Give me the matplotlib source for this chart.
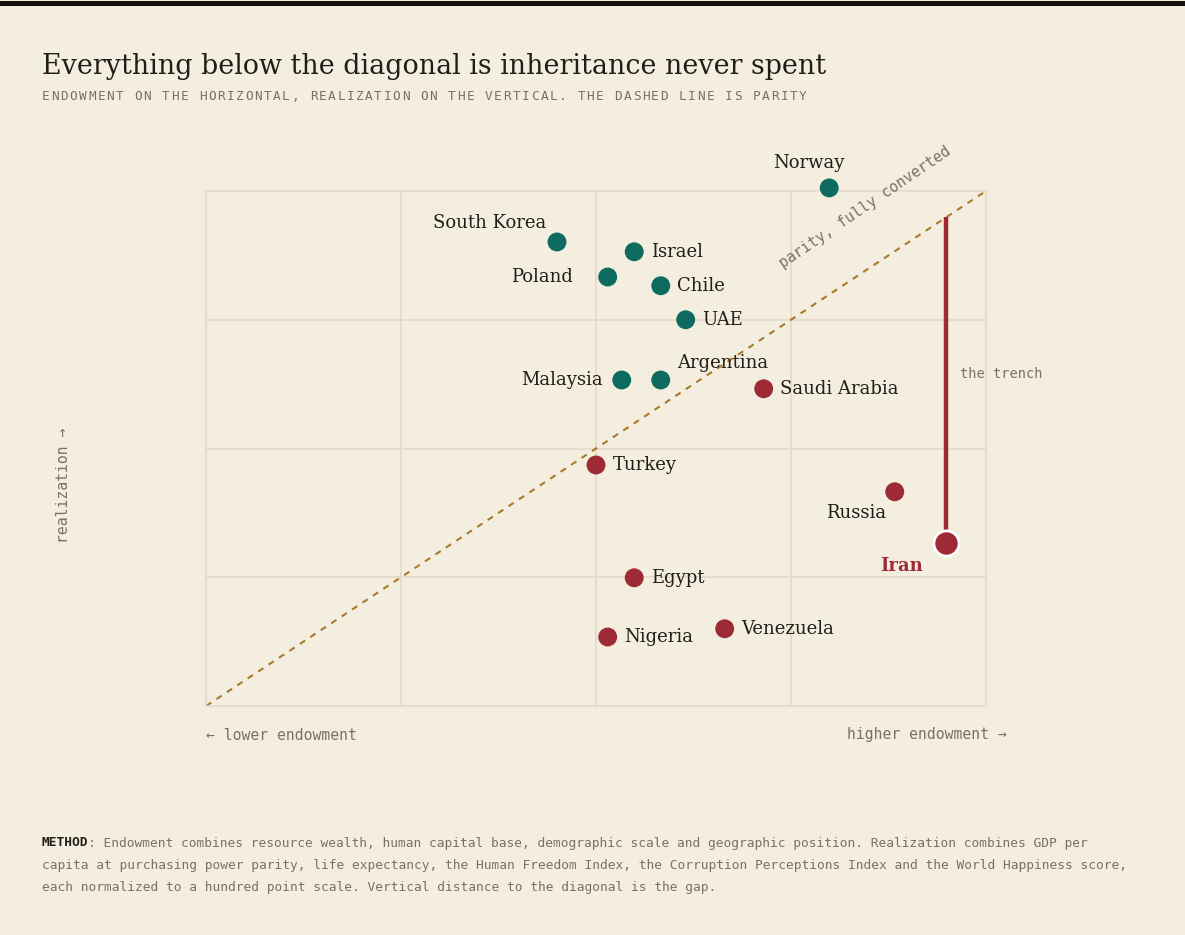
import matplotlib.pyplot as plt
from matplotlib.lines import Line2D

# dane (skala 0-100 na obu osiach)
kraje = ["Norway", "South Korea", "Israel", "Poland", "Chile", "UAE", "Malaysia",
         "Argentina", "Saudi Arabia", "Turkey", "Russia", "Iran", "Egypt",
         "Nigeria", "Venezuela"]
endowment = [79.9, 45.0, 54.9, 51.5, 58.3, 61.5, 53.3, 58.3, 71.5, 50.0, 88.3,
             94.9, 54.9, 51.5, 66.5]
realization = [100.6, 90.1, 88.2, 83.3, 81.6, 75.0, 63.3, 63.3, 61.6, 46.8, 41.6,
               31.7, 24.9, 13.4, 15.0]

BG = "#f4eee1"
TEAL = "#0d6b5f"
RED = "#9e2a35"
INK = "#231d19"
GRAY = "#7a7068"
GRID = "#e1d9ca"
GOLD = "#a87a2a"
W, H = 1185, 935

plt.rcParams["font.family"] = "DejaVu Serif"

fig = plt.figure(figsize=(W / 100, H / 100), dpi=100, facecolor=BG)
ax = fig.add_axes([206 / W, 1 - 706 / H, 780 / W, 515 / H])
ax.set_facecolor(BG)
ax.set_xlim(0, 100)
ax.set_ylim(0, 100)
ax.set_xticks([25, 50, 75])
ax.set_yticks([25, 50, 75])
ax.tick_params(length=0, labelbottom=False, labelleft=False)
ax.grid(True, color=GRID, lw=1.2)
for s in ax.spines.values():
    s.set_color(GRID)
    s.set_linewidth(1.2)

# pasek na górze
fig.add_artist(Line2D([0, 1], [1 - 2.5 / H, 1 - 2.5 / H], color="#15110e", lw=3.6))

# linia parytetu
ax.plot([0, 100], [0, 100], ls=(0, (3, 3)), color=GOLD, lw=1.5, zorder=2)
ax.text(74.2, 84.5, "parity, fully converted", rotation=34.3, rotation_mode="anchor",
        family="DejaVu Sans Mono", fontsize=10.6, color=GRAY, ha="left", va="bottom")

# rów Iranu
i_iran = kraje.index("Iran")
ax.plot([endowment[i_iran]] * 2, [endowment[i_iran], realization[i_iran]],
        color=RED, lw=3.2, zorder=3, solid_capstyle="butt")
ax.text(96.7, 64.5, "the trench", family="DejaVu Sans Mono", fontsize=9.8,
        color=GRAY, ha="left", va="center", clip_on=False)

# przesunięcia etykiet w punktach
etykiety = {
    "Norway": (-14.4, 18, "center"),
    "South Korea": (-8, 14, "right"),
    "Israel": (12, 0, "left"),
    "Poland": (-25, 0, "right"),
    "Chile": (12, 0, "left"),
    "UAE": (12, 0, "left"),
    "Malaysia": (-14, 0, "right"),
    "Argentina": (12, 12, "left"),
    "Saudi Arabia": (12, 0, "left"),
    "Turkey": (12, 0, "left"),
    "Russia": (-6, -15, "right"),
    "Egypt": (12, 0, "left"),
    "Nigeria": (12, 0, "left"),
    "Venezuela": (12, 0, "left"),
}

for k, x, y in zip(kraje, endowment, realization):
    kolor = TEAL if y > x else RED
    if k == "Iran":
        ax.scatter(x, y, s=330, color=kolor, edgecolor="white", linewidth=2,
                   zorder=5, clip_on=False)
        ax.annotate("Iran", (x, y), xytext=(-32, -17), textcoords="offset points",
                    fontsize=13, fontweight="bold", color=RED, ha="center", va="center",
                    annotation_clip=False)
        continue
    ax.scatter(x, y, s=185, color=kolor, edgecolor="none", zorder=4, clip_on=False)
    dx, dy, ha = etykiety[k]
    ax.annotate(k, (x, y), xytext=(dx, dy), textcoords="offset points",
                fontsize=13, color=INK, ha=ha, va="center", annotation_clip=False)

# tytuł
fig.text(42 / W, 1 - 66 / H, "Everything below the diagonal is inheritance never spent",
         fontsize=19.4, color=INK, va="center", ha="left")

# podtytuł z rozstrzelonymi literami (odstęp ~9.34 px na znak)
podtytul = "ENDOWMENT ON THE HORIZONTAL, REALIZATION ON THE VERTICAL. THE DASHED LINE IS PARITY"
krok = 766 / len(podtytul)
for n, znak in enumerate(podtytul):
    if znak != " ":
        fig.text((42 + n * krok) / W, 1 - 97 / H, znak, family="DejaVu Sans Mono",
                 fontsize=9.2, color=GRAY, va="center", ha="left")

# opisy osi
fig.text(206 / W, 1 - 735 / H, "← lower endowment", family="DejaVu Sans Mono",
         fontsize=10.6, color=GRAY, ha="left", va="center")
fig.text(1007 / W, 1 - 735 / H, "higher endowment →", family="DejaVu Sans Mono",
         fontsize=10.6, color=GRAY, ha="right", va="center")
fig.text(63 / W, 1 - 485 / H, "realization →", family="DejaVu Sans Mono",
         fontsize=10.6, color=GRAY, ha="center", va="center", rotation=90)

# metoda
linie = [
    ": Endowment combines resource wealth, human capital base, demographic scale and geographic position. Realization combines GDP per",
    "capita at purchasing power parity, life expectancy, the Human Freedom Index, the Corruption Perceptions Index and the World Happiness score,",
    "each normalized to a hundred point scale. Vertical distance to the diagonal is the gap.",
]
ROZM = 9.3
t = fig.text(42 / W, 1 - 843 / H, "METHOD", family="DejaVu Sans Mono", fontsize=ROZM,
             fontweight="bold", color=INK, ha="left", va="center")
fig.canvas.draw()
bb = t.get_window_extent()
fig.text(bb.x1 / W, 1 - 843 / H, linie[0], family="DejaVu Sans Mono",
         fontsize=ROZM, color=GRAY, ha="left", va="center")
for n, l in enumerate(linie[1:], start=1):
    fig.text(42 / W, 1 - (843 + 22 * n) / H, l, family="DejaVu Sans Mono",
             fontsize=ROZM, color=GRAY, ha="left", va="center")

fig.savefig("out.png", dpi=100, facecolor=BG)
